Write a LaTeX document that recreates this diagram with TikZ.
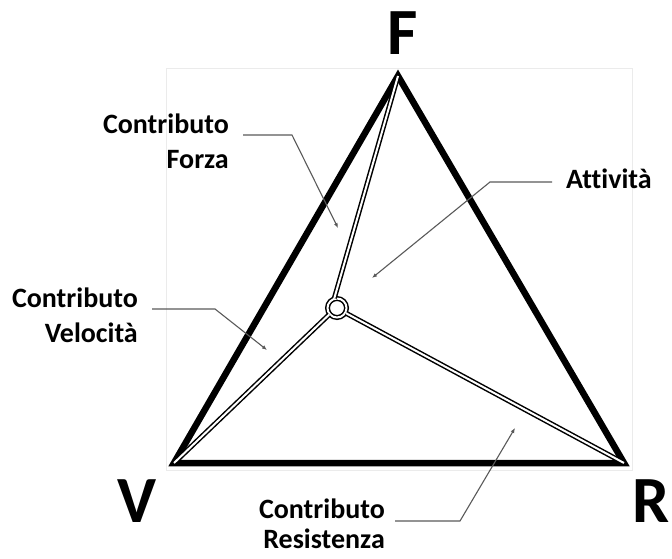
\documentclass[tikz,border=0pt]{standalone}
\usepackage{fontspec}
\setmainfont[Ligatures=NoCommon]{Carlito}
\usetikzlibrary{arrows.meta}
\tikzset{
  edge/.style={line width=6.5pt, line join=miter},
  spoke/.style={draw=black, line width=1.5pt, double=white, double distance=2pt},
  leader/.style={draw=black!65, line width=1.1pt, -{Latex[length=5pt,width=4pt]}},
  lbl/.style={font=\bfseries\fontsize{28}{35}\selectfont, align=right, inner sep=0pt},
  vtx/.style={font=\bfseries\fontsize{66}{66}\selectfont, inner sep=0pt}
}
\begin{document}
\begin{tikzpicture}[x=1pt,y=-1pt]
\useasboundingbox (0,0) rectangle (672,559);
\draw[black!8] (166,68) rectangle (632,470);

% vertici
\coordinate (F) at (398,76);
\coordinate (V) at (174,463);
\coordinate (R) at (624,463);
\node[vtx, anchor=base] (lF) at (403,55) {F};
\node[vtx, anchor=base] (lV) at (137,522) {V};
\node[vtx, anchor=base east] (lR) at (670,522) {R};

\draw[edge] (F) -- (V) -- (R) -- cycle;

% attivita
\node[circle, spoke, minimum size=19pt, inner sep=0pt] (A) at (337,308) {};
\draw[spoke] (F) -- (A.105);
\draw[spoke] (V) -- (A.220);
\draw[spoke] (R) -- (A.-30);

% etichette
\node[lbl, anchor=east] (cF) at (229,141) {Contributo\\Forza};
\node[lbl, anchor=east] (cV) at (138,315) {Contributo\\Velocità};
\node[lbl, anchor=base west] (att) at (566,188) {Attività};
\node[lbl, anchor=east, font=\bfseries\fontsize{28}{30}\selectfont] (cR) at (385,524) {Contributo\\Resistenza};

\coordinate (pF) at (338,228);
\coordinate (pV) at (267,350);
\coordinate (pA) at (372,278);
\coordinate (pR) at (515,428);
\draw[leader] (243,135) -- (292,135) -- (pF);
\draw[leader] (152,309) -- (215,309) -- (pV);
\draw[leader] (552,182) -- (490,182) -- (pA);
\draw[leader] (395,521) -- (460,521) -- (pR);
\end{tikzpicture}
\end{document}
